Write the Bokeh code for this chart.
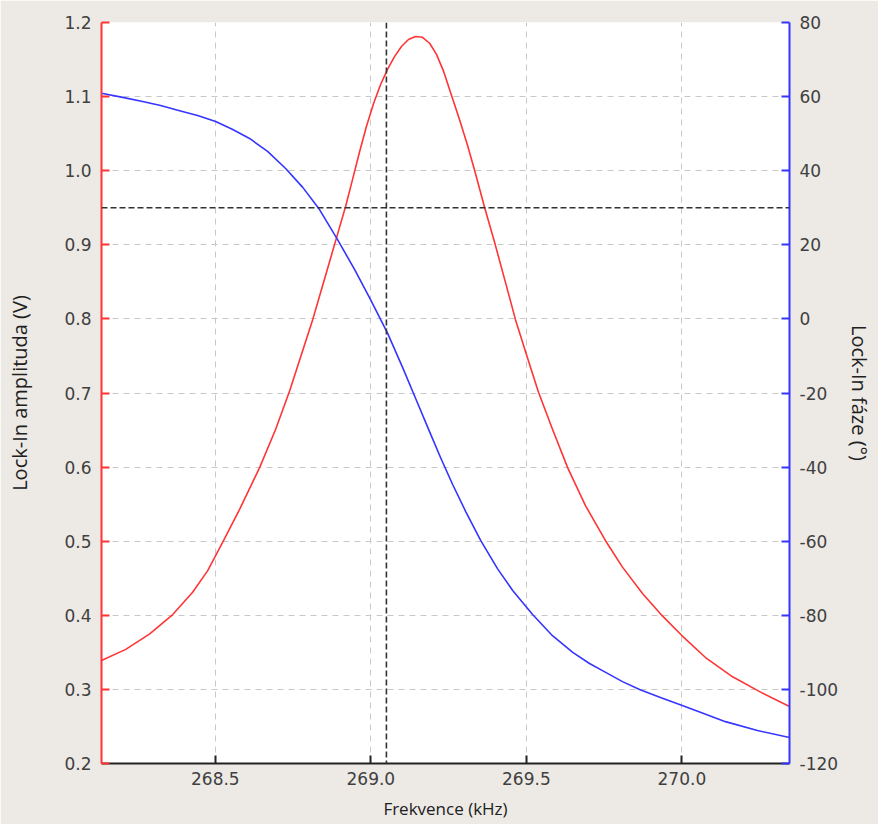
from bokeh.plotting import figure
from bokeh.models import Range1d, LinearAxis, FixedTicker, Span, PrintfTickFormatter
from bokeh.embed import file_html
from bokeh.resources import INLINE

# ---- data ----
amp_freq = [268.134, 268.212, 268.289, 268.363, 268.427, 268.475, 268.523, 268.578,
            268.642, 268.694, 268.739, 268.813, 268.845, 268.890, 268.919, 268.941,
            268.964, 268.986, 269.009, 269.031, 269.054, 269.076, 269.099, 269.121,
            269.144, 269.166, 269.189, 269.211, 269.234, 269.256, 269.285, 269.311,
            269.334, 269.366, 269.398, 269.433, 269.465, 269.504, 269.539, 269.584,
            269.633, 269.690, 269.754, 269.809, 269.874, 269.931, 269.999, 270.076,
            270.163, 270.250, 270.346]
amp_values = [0.339, 0.354, 0.375, 0.401, 0.431, 0.460, 0.498, 0.543,
              0.599, 0.651, 0.703, 0.799, 0.845, 0.910, 0.952, 0.988,
              1.026, 1.060, 1.091, 1.116, 1.137, 1.154, 1.168, 1.177,
              1.181, 1.180, 1.172, 1.157, 1.134, 1.106, 1.069, 1.034,
              1.000, 0.950, 0.903, 0.849, 0.799, 0.747, 0.701, 0.651,
              0.599, 0.548, 0.501, 0.465, 0.429, 0.402, 0.373, 0.343,
              0.317, 0.297, 0.277]

phase_freq = [268.134, 268.202, 268.266, 268.324, 268.385, 268.443, 268.501, 268.556,
              268.610, 268.668, 268.726, 268.781, 268.835, 268.893, 268.948, 268.999,
              269.054, 269.102, 269.144, 269.186, 269.224, 269.263, 269.305, 269.353,
              269.407, 269.456, 269.520, 269.584, 269.649, 269.703, 269.755, 269.809,
              269.864, 269.931, 269.999, 270.070, 270.140, 270.243, 270.346]
phase_values = [60.9, 59.8, 58.7, 57.6, 56.2, 54.9, 53.3, 51.1,
                48.7, 45.2, 40.6, 35.5, 29.5, 21.4, 13.3, 5.2,
                -3.9, -13.1, -21.5, -29.9, -37.4, -44.7, -52.0, -59.8,
                -67.4, -73.3, -79.8, -85.5, -90.0, -93.0, -95.4, -97.9,
                -100.0, -102.2, -104.3, -106.5, -108.7, -111.1, -113.0]

marker_freq = 269.05
marker_amp = 0.95

x_ticks = [268.5, 269.0, 269.5, 270.0]
amp_ticks = [0.2, 0.3, 0.4, 0.5, 0.6, 0.7, 0.8, 0.9, 1.0, 1.1, 1.2]
phase_ticks = [-120, -100, -80, -60, -40, -20, 0, 20, 40, 60, 80]

x_min, x_max = 268.134, 270.346
amp_min, amp_max = 0.2, 1.2
phase_min, phase_max = -120, 80

RED = "#ff3535"
BLUE = "#3535ff"
TICK_COLOR = "#404040"
TICK_FONT = "DejaVu Sans"
LABEL_FONT = "Open Sans"

p = figure(width=878, height=824, output_backend="svg", toolbar_location=None,
           x_range=Range1d(x_min, x_max), y_range=Range1d(amp_min, amp_max),
           min_border_left=101, min_border_right=89, min_border_top=22, min_border_bottom=61)
p.extra_y_ranges = {"phase": Range1d(phase_min, phase_max)}

p.background_fill_color = "white"
p.border_fill_color = "#edeae6"
p.outline_line_color = None

def style_axis(ax, color, ticks, fmt):
    ax.ticker = FixedTicker(ticks=ticks)
    ax.formatter = PrintfTickFormatter(format=fmt)
    ax.axis_line_color = color
    ax.axis_line_width = 2
    ax.major_tick_line_color = color
    ax.major_tick_line_width = 2
    ax.major_tick_in = 8
    ax.major_tick_out = 0
    ax.minor_tick_line_color = None
    ax.major_label_text_font = TICK_FONT
    ax.major_label_text_font_size = "17px"
    ax.major_label_text_color = TICK_COLOR
    ax.major_label_standoff = 10
    ax.axis_label_text_font = LABEL_FONT
    ax.axis_label_text_font_style = "normal"
    ax.axis_label_text_color = "#202020"

# bottom axis
xa = p.xaxis[0]
style_axis(xa, "#222222", x_ticks, "%.1f")
xa.major_label_standoff = 8
xa.axis_label = "Frekvence (kHz)"
xa.axis_label_text_font_size = "17px"
xa.axis_label_standoff = 9

# left axis
ya = p.yaxis[0]
style_axis(ya, RED, amp_ticks, "%.1f")
ya.axis_label = "Lock-In amplituda (V)"
ya.axis_label_text_font_size = "20px"
ya.axis_label_standoff = 28

# right axis
ra = LinearAxis(y_range_name="phase")
style_axis(ra, BLUE, phase_ticks, "%d")
ra.axis_label = "Lock-In fáze (°)"
ra.axis_label_text_font_size = "20px"
ra.axis_label_standoff = 5
p.add_layout(ra, "right")

# grids
p.xgrid.ticker = FixedTicker(ticks=x_ticks)
p.ygrid.ticker = FixedTicker(ticks=amp_ticks)
for g in (p.xgrid[0], p.ygrid[0]):
    g.grid_line_color = "#c8c8c8"
    g.grid_line_dash = "6 5"
    g.grid_line_width = 1

# curves
p.line(amp_freq, amp_values, line_color=RED, line_width=1.6, line_join="round")
p.line(phase_freq, phase_values, y_range_name="phase", line_color=BLUE,
       line_width=1.6, line_join="round")

# marker lines
p.add_layout(Span(location=marker_freq, dimension="height", line_color="#333333",
                  line_dash="6 3", line_width=1.6))
p.add_layout(Span(location=marker_amp, dimension="width", line_color="#333333",
                  line_dash="6 3", line_width=1.6))

open("out.html", "w").write(file_html(p, INLINE))
